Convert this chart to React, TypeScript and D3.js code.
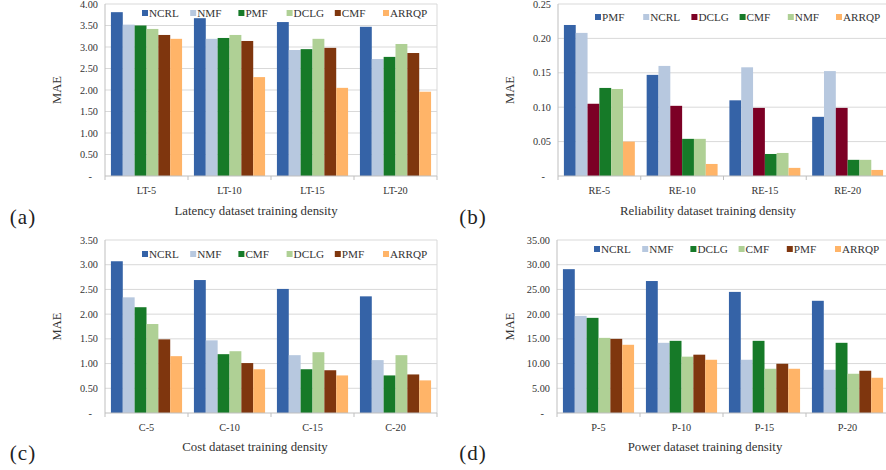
import React from "react";
import * as d3 from "d3";

const catsA = ["LT-5", "LT-10", "LT-15", "LT-20"];
const seriesA = ["NCRL", "NMF", "PMF", "DCLG", "CMF", "ARRQP"];
const valuesA = [
  [3.81, 3.67, 3.58, 3.47],
  [3.52, 3.19, 2.93, 2.72],
  [3.5, 3.21, 2.95, 2.77],
  [3.42, 3.28, 3.19, 3.07],
  [3.28, 3.14, 2.98, 2.86],
  [3.19, 2.3, 2.05, 1.96],
];

const catsB = ["RE-5", "RE-10", "RE-15", "RE-20"];
const seriesB = ["PMF", "NCRL", "DCLG", "CMF", "NMF", "ARRQP"];
const valuesB = [
  [0.2195, 0.147, 0.11, 0.086],
  [0.208, 0.16, 0.158, 0.1525],
  [0.105, 0.102, 0.099, 0.099],
  [0.128, 0.054, 0.032, 0.0235],
  [0.1265, 0.054, 0.0335, 0.0235],
  [0.05, 0.0175, 0.0118, 0.0088],
];

const catsC = ["C-5", "C-10", "C-15", "C-20"];
const seriesC = ["NCRL", "NMF", "CMF", "DCLG", "PMF", "ARRQP"];
const valuesC = [
  [3.07, 2.69, 2.51, 2.36],
  [2.34, 1.47, 1.17, 1.07],
  [2.14, 1.19, 0.885, 0.76],
  [1.8, 1.25, 1.23, 1.17],
  [1.49, 1.01, 0.865, 0.78],
  [1.15, 0.885, 0.76, 0.66],
];

const catsD = ["P-5", "P-10", "P-15", "P-20"];
const seriesD = ["NCRL", "NMF", "DCLG", "CMF", "PMF", "ARRQP"];
const valuesD = [
  [29.1, 26.7, 24.5, 22.7],
  [19.65, 14.2, 10.77, 8.75],
  [19.25, 14.6, 14.6, 14.2],
  [15.2, 11.4, 8.95, 7.94],
  [15.0, 11.8, 9.96, 8.55],
  [13.8, 10.77, 8.95, 7.13],
];

const C_BLUE = "#3563a7";
const C_LBLUE = "#b7c8df";
const C_GREEN = "#167a28";
const C_LGREEN = "#afd095";
const C_BROWN = "#7f360e";
const C_ORANGE = "#ffb468";
const C_RED = "#7c0025";

const colorsStd = [C_BLUE, C_LBLUE, C_GREEN, C_LGREEN, C_BROWN, C_ORANGE];
const colorsB = [C_BLUE, C_LBLUE, C_RED, C_GREEN, C_LGREEN, C_ORANGE];

const FONT = "'Liberation Serif', 'Times New Roman', serif";

type PanelProps = {
  cats: string[];
  series: string[];
  values: number[][];
  colors: string[];
  yMax: number;
  yStep: number;
  left: number;
  right: number;
  top: number;
  bottom: number;
  legendY: number;
  legendX: number;
  title: string;
  titleX: number;
  titleY: number;
  letter: string;
  letterX: number;
  letterY: number;
  maeX: number;
  border: boolean;
};

function Panel(p: PanelProps) {
  const y = d3.scaleLinear().domain([0, p.yMax]).range([p.bottom, p.top]);
  const x0 = d3
    .scaleBand<string>()
    .domain(p.cats)
    .range([p.left, p.right])
    .paddingInner(1 / 7)
    .paddingOuter(1 / 14);
  const x1 = d3
    .scaleBand<string>()
    .domain(p.series)
    .range([0, x0.bandwidth()]);
  const ticks = d3.range(0, p.yMax + p.yStep / 2, p.yStep);
  const step = x0.step();
  const fmt = d3.format(".2f");
  return (
    <g>
      {ticks.map((t, i) =>
        i > 0 ? (
          <line
            key={"g" + i}
            x1={p.left}
            x2={p.right}
            y1={y(t)}
            y2={y(t)}
            stroke="#d9d9d9"
            strokeWidth={1}
          />
        ) : null
      )}
      {p.border && (
        <line x1={p.right} x2={p.right} y1={p.top} y2={p.bottom} stroke="#d9d9d9" />
      )}
      {p.series.map((s, si) =>
        p.cats.map((c, ci) => (
          <rect
            key={s + c}
            x={(x0(c) as number) + (x1(s) as number)}
            width={x1.bandwidth()}
            y={y(p.values[si][ci])}
            height={p.bottom - y(p.values[si][ci])}
            fill={p.colors[si]}
          />
        ))
      )}
      <line x1={p.left} x2={p.left} y1={p.top} y2={p.bottom} stroke="#bfbfbf" />
      <line x1={p.left} x2={p.right} y1={p.bottom} y2={p.bottom} stroke="#bfbfbf" />
      {d3.range(0, p.cats.length + 1).map((i) => (
        <line
          key={"t" + i}
          x1={p.left + i * step}
          x2={p.left + i * step}
          y1={p.bottom}
          y2={p.bottom + 4}
          stroke="#bfbfbf"
        />
      ))}
      {ticks.map((t, i) => (
        <text
          key={"l" + i}
          x={i === 0 ? p.left - 13 : p.left - 7}
          y={y(t)}
          dy="0.35em"
          textAnchor="end"
          fontFamily={FONT}
          fontSize={10.3}
          fill="#333"
        >
          {i === 0 ? "-" : fmt(t)}
        </text>
      ))}
      {p.cats.map((c) => (
        <text
          key={"c" + c}
          x={(x0(c) as number) + x0.bandwidth() / 2}
          y={p.bottom + 14}
          dy="0.35em"
          textAnchor="middle"
          fontFamily={FONT}
          fontSize={10.3}
          fill="#333"
        >
          {c}
        </text>
      ))}
      {p.series.map((s, si) => (
        <g key={"lg" + s} transform={`translate(${p.legendX + si * 48.2},${p.legendY})`}>
          <rect x={0} y={-3} width={6} height={6} fill={p.colors[si]} />
          <text x={7} y={0} dy="0.35em" fontFamily={FONT} fontSize={11.2} fill="#333">
            {s}
          </text>
        </g>
      ))}
      <text
        transform={`translate(${p.maeX},${(p.top + p.bottom) / 2}) rotate(-90)`}
        textAnchor="middle"
        dy="0.35em"
        fontFamily={FONT}
        fontSize={12.6}
        fill="#333"
      >
        MAE
      </text>
      <text
        x={p.titleX}
        y={p.titleY}
        dy="0.35em"
        textAnchor="middle"
        fontFamily={FONT}
        fontSize={12.8}
        fill="#333"
      >
        {p.title}
      </text>
      <text
        x={p.letterX}
        y={p.letterY}
        dy="0.35em"
        textAnchor="middle"
        fontFamily={FONT}
        fontSize={21}
        letterSpacing={1}
        fill="#222"
      >
        {p.letter}
      </text>
    </g>
  );
}

export default function App() {
  return (
    <svg
      width={886}
      height={470}
      style={{ position: "absolute", left: 0, top: 0, background: "#fff" }}
    >
      <rect width={886} height={470} fill="#fff" />
      <Panel
        cats={catsA}
        series={seriesA}
        values={valuesA}
        colors={colorsStd}
        yMax={4}
        yStep={0.5}
        left={105}
        right={437}
        top={4}
        bottom={176}
        legendX={142}
        legendY={13}
        title="Latency dataset training density"
        titleX={256}
        titleY={211}
        letter="(a)"
        letterX={23}
        letterY={217}
        maeX={57}
        border={true}
      />
      <Panel
        cats={catsB}
        series={seriesB}
        values={valuesB}
        colors={colorsB}
        yMax={0.25}
        yStep={0.05}
        left={558}
        right={889}
        top={4}
        bottom={176}
        legendX={595}
        legendY={17}
        title="Reliability dataset training density"
        titleX={708}
        titleY={211}
        letter="(b)"
        letterX={473}
        letterY={217}
        maeX={510}
        border={false}
      />
      <Panel
        cats={catsC}
        series={seriesC}
        values={valuesC}
        colors={colorsStd}
        yMax={3.5}
        yStep={0.5}
        left={105}
        right={437}
        top={240}
        bottom={413}
        legendX={142}
        legendY={254}
        title="Cost dataset training density"
        titleX={255}
        titleY={447}
        letter="(c)"
        letterX={23}
        letterY={453}
        maeX={57}
        border={true}
      />
      <Panel
        cats={catsD}
        series={seriesD}
        values={valuesD}
        colors={colorsStd}
        yMax={35}
        yStep={5}
        left={557}
        right={889}
        top={240}
        bottom={413}
        legendX={594}
        legendY={249}
        title="Power dataset training density"
        titleX={705}
        titleY={447}
        letter="(d)"
        letterX={473}
        letterY={453}
        maeX={510}
        border={false}
      />
    </svg>
  );
}
